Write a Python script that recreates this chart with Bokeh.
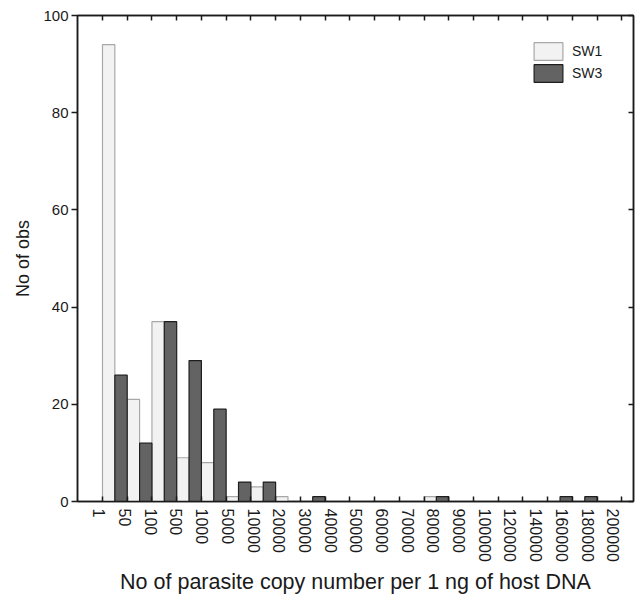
import math
import numpy as np
from bokeh.plotting import figure
from bokeh.models import (FixedTicker, LinearAxis, Legend, LegendItem,
                          ColumnDataSource, Range1d, CustomJSTickFormatter)
from bokeh.embed import file_html
from bokeh.resources import INLINE

# ---- data ----
bin_labels = ["1", "50", "100", "500", "1000", "5000", "10000", "20000",
              "30000", "40000", "50000", "60000", "70000", "80000", "90000",
              "100000", "120000", "140000", "160000", "180000", "200000"]
sw1 = [94, 21, 37, 9, 8, 1, 3, 1, 0, 0, 0, 0, 0, 1, 0, 0, 0, 0, 0, 0, 0]
sw3 = [26, 12, 37, 29, 19, 4, 4, 0, 1, 0, 0, 0, 0, 1, 0, 0, 0, 0, 1, 1, 0]
y_ticks = [0, 20, 40, 60, 80, 100]

FONT = "Liberation Sans"
INK = "#1a1a1a"

n = len(bin_labels)
idx = np.arange(n)
src = ColumnDataSource(dict(x1=idx + 0.25, x3=idx + 0.75, sw1=sw1, sw3=sw3))

p = figure(width=636, height=596, output_backend="svg", toolbar_location=None,
           x_range=Range1d(-1.01, n + 0.47), y_range=Range1d(0, 100),
           min_border_left=77, min_border_right=3, min_border_top=15,
           min_border_bottom=95, x_axis_location=None, y_axis_location=None)
p.grid.grid_line_color = None
p.outline_line_color = INK
p.outline_line_width = 1.5
p.background_fill_color = "white"

r1 = p.vbar(x="x1", top="sw1", bottom=0, width=0.5, source=src,
            fill_color="#f2f2f2", line_color="#a8a8a8", line_width=1.2)
r3 = p.vbar(x="x3", top="sw3", bottom=0, width=0.5, source=src,
            fill_color="#636363", line_color="#1e1e1e", line_width=1.2)

# bottom axis: tick marks at bin boundaries (minor), labels spread (major)
label_pos = [round(float(v), 4) for v in np.linspace(-0.125, n - 0.35, n)]
xaxis = LinearAxis(
    ticker=FixedTicker(ticks=label_pos, minor_ticks=list(range(n + 1))),
    formatter=CustomJSTickFormatter(args=dict(labels=bin_labels),
                                    code="return labels[index];"),
    axis_line_color=INK, axis_line_width=1.5,
    major_tick_in=0, major_tick_out=0,
    minor_tick_in=5, minor_tick_out=0,
    minor_tick_line_color=INK, minor_tick_line_width=1.5,
    major_label_orientation=-math.pi / 2, major_label_standoff=7,
    major_label_text_font=FONT, major_label_text_font_size="16px",
    major_label_text_color=INK,
    axis_label="No of parasite copy number per 1 ng of host DNA",
    axis_label_text_font=FONT, axis_label_text_font_size="21.5px",
    axis_label_text_font_style="normal", axis_label_text_color=INK,
    axis_label_standoff=5)
p.add_layout(xaxis, "below")

top_axis = LinearAxis(
    ticker=FixedTicker(ticks=[], minor_ticks=list(range(n + 1))),
    axis_line_color=INK, axis_line_width=1.5,
    major_tick_in=0, major_tick_out=0,
    minor_tick_in=5, minor_tick_out=0,
    minor_tick_line_color=INK, minor_tick_line_width=1.5,
    major_label_standoff=0, major_label_text_font_size="0px")
p.add_layout(top_axis, "above")

yaxis = LinearAxis(
    ticker=FixedTicker(ticks=y_ticks),
    axis_line_color=INK, axis_line_width=1.5,
    major_tick_in=0, major_tick_out=6,
    major_tick_line_color=INK, major_tick_line_width=1.5,
    minor_tick_in=0, minor_tick_out=0,
    major_label_standoff=3,
    major_label_text_font=FONT, major_label_text_font_size="15px",
    major_label_text_color=INK,
    axis_label="No of obs",
    axis_label_text_font=FONT, axis_label_text_font_size="18px",
    axis_label_text_font_style="normal", axis_label_text_color=INK,
    axis_label_standoff=7)
p.add_layout(yaxis, "left")

right_axis = LinearAxis(
    ticker=FixedTicker(ticks=[], minor_ticks=y_ticks),
    axis_line_color=INK, axis_line_width=1.5,
    major_tick_in=0, major_tick_out=0,
    minor_tick_in=5, minor_tick_out=0,
    minor_tick_line_color=INK, minor_tick_line_width=1.5,
    major_label_standoff=0, major_label_text_font_size="0px")
p.add_layout(right_axis, "right")

legend = Legend(
    items=[LegendItem(label="SW1", renderers=[r1]),
           LegendItem(label="SW3", renderers=[r3])],
    location=(453, 417), glyph_width=36, glyph_height=22, label_height=22,
    spacing=0, padding=5, margin=0, label_standoff=6,
    border_line_color=None, background_fill_alpha=0,
    label_text_font=FONT, label_text_font_size="14px", label_text_color=INK)
p.add_layout(legend)

open("out.html", "w").write(file_html(p, INLINE))
